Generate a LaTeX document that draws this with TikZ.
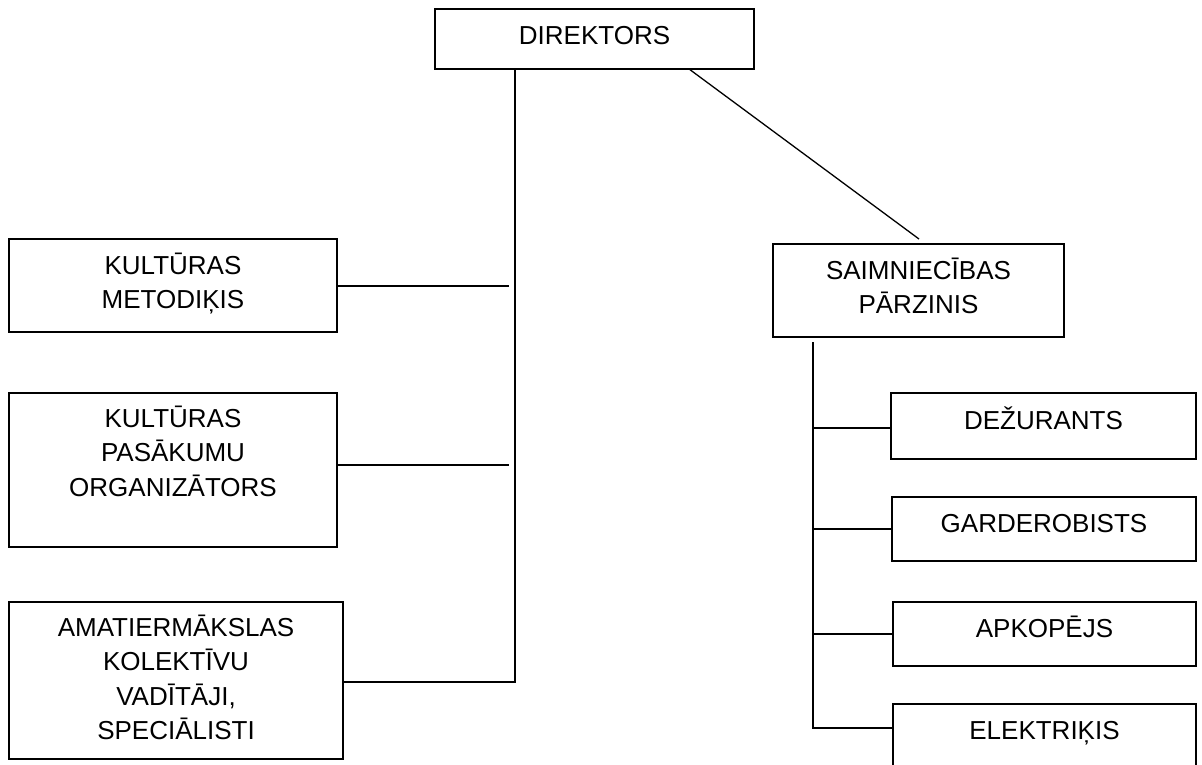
\documentclass[tikz,border=0pt]{standalone}
\usepackage{fontspec}
\setmainfont{Liberation Sans}
\begin{document}
\begin{tikzpicture}[x=1pt,y=-1pt,
  box/.style={draw=black,line width=1.4pt,inner sep=0pt,minimum width=#1},
  lbl/.style={anchor=base,inner sep=0pt,font=\fontsize{26}{34.5}\selectfont},
  conn/.style={line width=1.3pt,black}]
\useasboundingbox (0,0) rectangle (1202,764);
\clip (0,0) rectangle (1202,764);
% boxes
\node[box=319pt,minimum height=60pt] (dir) at (594.5,39) {};
\node[box=328pt,minimum height=93pt] (km) at (173,285.5) {};
\node[box=328pt,minimum height=154pt] (kpo) at (173,470) {};
\node[box=334pt,minimum height=157pt] (ama) at (176,680.5) {};
\node[box=291pt,minimum height=93pt] (sai) at (918.5,290.5) {};
\node[box=305pt,minimum height=66pt] (dez) at (1043.5,426) {};
\node[box=304pt,minimum height=64pt] (gar) at (1044,529) {};
\node[box=303pt,minimum height=64pt] (apk) at (1044.5,634) {};
\node[box=303pt,minimum height=65pt] (ele) at (1044.5,736.5) {};
% labels
\node[lbl] (dirt) at ([yshift=-36pt]dir.north) {\parbox[t]{319pt}{\centering DIREKTORS}};
\node[lbl] (kmt) at ([yshift=-36pt]km.north) {\parbox[t]{328pt}{\centering KULTŪRAS\\METODIĶIS}};
\node[lbl] (kpot) at ([yshift=-35pt]kpo.north) {\parbox[t]{328pt}{\centering KULTŪRAS\\PASĀKUMU\\ORGANIZĀTORS}};
\node[lbl] (amat) at ([yshift=-35pt]ama.north) {\parbox[t]{334pt}{\centering AMATIERMĀKSLAS\\KOLEKTĪVU\\VADĪTĀJI,\\SPECIĀLISTI}};
\node[lbl] (sait) at ([yshift=-36pt]sai.north) {\parbox[t]{291pt}{\centering SAIMNIECĪBAS\\PĀRZINIS}};
\node[lbl] (dezt) at ([yshift=-37pt]dez.north) {\parbox[t]{305pt}{\centering DEŽURANTS}};
\node[lbl] (gart) at ([yshift=-36pt]gar.north) {\parbox[t]{304pt}{\centering GARDEROBISTS}};
\node[lbl] (apkt) at ([yshift=-36pt]apk.north) {\parbox[t]{303pt}{\centering APKOPĒJS}};
\node[lbl] (elet) at ([yshift=-36pt]ele.north) {\parbox[t]{303pt}{\centering ELEKTRIĶIS}};
% junction coordinates
\coordinate (lt) at (515,682);
\coordinate (kmj) at (509,286);
\coordinate (kpoj) at (509,465);
\coordinate (d2) at (919,239);
\coordinate (rt) at (813,342);
\coordinate (rb) at (813,728);
% left trunk
\draw[conn] (dir.south -| lt) -- (lt) -- (lt -| ama.east);
\draw[conn] (kmj -| km.east) -- (kmj);
\draw[conn] (kpoj -| kpo.east) -- (kpoj);
% diagonal
\draw[conn] ([xshift=95.5pt]dir.south) -- (d2);
% right trunk
\draw[conn] (rt) -- (rb) -- (rb -| ele.west);
\draw[conn] (rt |- 0,428) -- (dez.west |- 0,428);
\draw[conn] (rt |- gar.west) -- (gar.west);
\draw[conn] (rt |- apk.west) -- (apk.west);
\end{tikzpicture}
\end{document}
